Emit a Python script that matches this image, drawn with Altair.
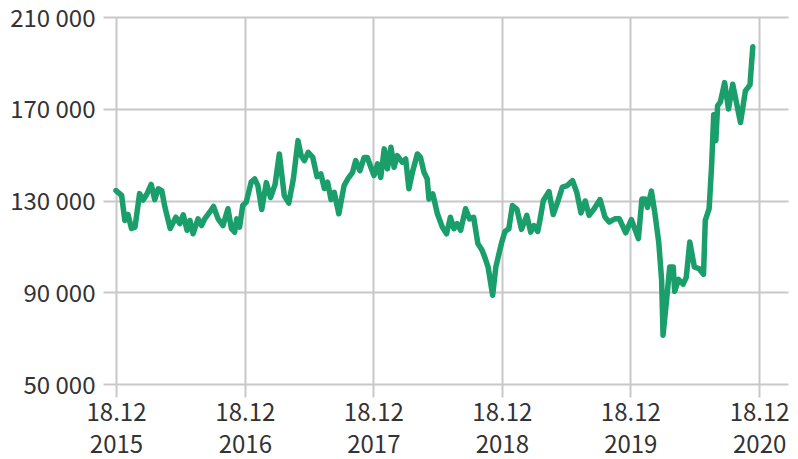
import altair as alt
import pandas as pd

start = "2015-12-18"
days = [0,16,25,34,44,54,67,77,87,100,
        110,120,130,139,154,170,181,191,202,210,
        219,233,243,252,266,277,290,304,318,328,
        337,343,351,360,370,384,394,403,414,427,
        439,452,464,478,491,504,517,526,535,546,
        559,571,582,592,601,611,620,633,648,660,
        672,681,693,705,714,724,733,743,752,762,
        771,781,790,799,813,823,832,842,856,865,
        875,884,889,900,913,927,939,950,960,969,
        979,993,1004,1016,1028,1040,1049,1057,1070,1079,
        1089,1096,1105,1116,1126,1139,1152,1167,1178,1187,
        1198,1205,1214,1230,1242,1254,1268,1282,1297,1309,
        1321,1333,1344,1357,1375,1389,1401,1417,1430,1448,
        1464,1484,1494,1503,1510,1521,1531,1542,1550,1554,
        1564,1573,1583,1587,1598,1611,1620,1630,1643,1656,
        1669,1674,1685,1692,1698,1704,1709,1717,1729,1740,
        1752,1774,1788,1801,1809]
values = [134300,132200,121300,123900,117800,118400,133000,130200,132600,137000,
          130400,135100,134300,127100,117800,122700,119900,123800,117000,121300,
          115500,122000,119100,122000,124900,127400,122000,119100,126400,117700,
          116200,122000,118400,127800,129300,138000,139400,136500,126100,137800,
          131300,137000,150300,132200,128900,139600,156100,149600,147400,151000,
          148800,140400,141600,135200,138000,130400,133600,124200,136500,139800,
          142300,147400,143000,148800,148800,144500,140900,146000,140100,152500,
          143800,153200,144500,149600,146700,148100,135100,142300,150300,148800,
          142300,139400,130700,132900,124200,118400,115500,122700,117700,119900,
          117000,126400,122000,122700,111200,108300,104700,101000,88700,101000,
          107500,111900,116500,117700,127800,126100,117400,123500,116200,119100,
          116500,122000,130000,133900,123900,129100,135800,136500,138700,133500,
          124600,129800,123500,126100,130400,122800,120600,122000,122000,115900,
          121700,113400,130700,130700,127000,134100,124300,111500,95200,71300,
          86500,101000,101000,90400,95600,93500,96500,111900,101000,100300,
          97800,121300,126500,145200,167400,156100,171300,173000,181400,169900,
          180700,164000,177800,180400,197000]

y_ticks = [50000, 90000, 130000, 170000, 210000]
tick_years = [2015, 2016, 2017, 2018, 2019, 2020]

dates = (pd.Timestamp(start) + pd.to_timedelta(days, unit="D")).strftime("%Y-%m-%d")
df = pd.DataFrame({"date": list(dates), "value": values})

x_vals = [alt.DateTime(year=y, month=12, date=18, utc=True) for y in tick_years]

FONT = "Noto Sans CJK SC"
GRID = "#c8c8c8"

chart = alt.Chart(df).mark_line(
    color="#1a9e6b", strokeWidth=5.5, strokeJoin="round", strokeCap="round"
).encode(
    x=alt.X(
        "date:T",
        scale=alt.Scale(
            type="utc",
            domain=[alt.DateTime(year=2015, month=12, date=18, utc=True),
                    alt.DateTime(year=2021, month=3, date=10, utc=True)],
            nice=False,
        ),
        axis=alt.Axis(
            values=x_vals,
            labelExpr="[utcFormat(datum.value, '%d.%m'), utcFormat(datum.value, '%Y')]",
            labelLineHeight=32,
            labelFlush=False,
            labelOverlap=False,
            labelPadding=4,
        ),
        title=None,
    ),
    y=alt.Y(
        "value:Q",
        scale=alt.Scale(domain=[50000, 210000], nice=False, zero=False),
        axis=alt.Axis(
            values=y_ticks,
            labelExpr="format(datum.value / 1000, 'd') + ' 000'",
            labelPadding=8,
            labelOffset=2,
            labelOverlap=False,
        ),
        title=None,
    ),
).properties(
    width=672,
    height=367,
    padding={"left": 108, "top": 9, "right": 2, "bottom": 75},
    autosize=alt.AutoSizeParams(type="none"),
).configure_axis(
    grid=True,
    gridColor=GRID,
    gridWidth=2,
    domain=False,
    tickColor=GRID,
    tickWidth=2,
    tickSize=13,
    labelFont=FONT,
    labelFontSize=24,
    labelColor="#333333",
).configure_view(stroke=None)

chart.save("out.html", embed_options={"renderer": "svg", "actions": False})
